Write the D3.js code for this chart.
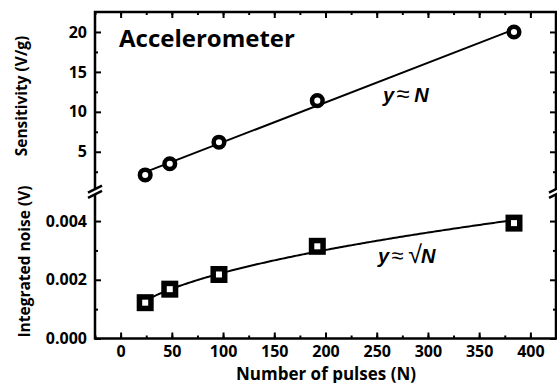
<!DOCTYPE html>
<html>
<head>
<meta charset="utf-8">
<script src="https://cdn.jsdelivr.net/npm/d3@7"></script>
<style>
  body { margin: 0; background: #fff; }
  svg { display: block; }
  .tick text { font-family: "Open Sans", sans-serif; font-weight: bold; font-size: 16px; fill: #000; }
  .tick line { stroke: #000; stroke-width: 2; }
  .frame { stroke: #000; stroke-width: 2.5; fill: none; }
  .title { font-family: "Open Sans", sans-serif; font-weight: bold; fill: #000; }
  .eq { font-family: "Liberation Sans", Arial, sans-serif; font-size: 20px; fill: #000; }
</style>
</head>
<body>
<svg id="chart" width="557" height="383"></svg>
<script>
// data
const pulses = [24, 48, 96, 192, 384];
const sensitivity = [2.1, 3.5, 6.2, 11.4, 20.0];        // V/g
const noise = [0.00122, 0.00168, 0.00218, 0.00314, 0.00393]; // V

const xTicks = [0, 50, 100, 150, 200, 250, 300, 350, 400];
const topTicks = [5, 10, 15, 20];
const botTicks = [0.000, 0.002, 0.004];

const svg = d3.select('#chart');
const pLeft = 95, pRight = 556, pTop = 12, pBottom = 338.5, brk = 191.7;

const x = d3.scaleLinear().domain([-25, 425]).range([pLeft, pRight]);
const yTop = d3.scaleLinear().domain([0, 22.5]).range([brk, pTop]);
const yBot = d3.scaleLinear().domain([0, 0.005]).range([pBottom, brk]);

const xMinor = d3.range(-25, 426, 25);
const topMinor = [2.5, 7.5, 12.5, 17.5];
const botMinor = [0.001, 0.003];

// ticks (all pointing inward)
function ticks(axis, transform, vals, size, fmt) {
  const g = svg.append('g').attr('transform', transform)
    .call(axis.tickValues(vals).tickSize(size).tickPadding(fmt ? 8 : 0)
      .tickFormat(fmt || (() => '')));
  g.select('.domain').remove();
  return g;
}

// x axis: bottom labels, top ticks
ticks(d3.axisBottom(x), `translate(0,${pBottom})`, xTicks, -6, d3.format('d'))
  .call(g => g.selectAll('text').attr('y', 7));
ticks(d3.axisBottom(x), `translate(0,${pBottom})`, xMinor, -3);
ticks(d3.axisTop(x), `translate(0,${pTop})`, xTicks, -6);
ticks(d3.axisTop(x), `translate(0,${pTop})`, xMinor, -3);

// top panel y ticks
ticks(d3.axisLeft(yTop), `translate(${pLeft},0)`, topTicks, -6, d3.format('d'));
ticks(d3.axisLeft(yTop), `translate(${pLeft},0)`, topMinor, -3);
ticks(d3.axisRight(yTop), `translate(${pRight},0)`, topTicks, -6);
ticks(d3.axisRight(yTop), `translate(${pRight},0)`, topMinor, -3);

// bottom panel y ticks
ticks(d3.axisLeft(yBot), `translate(${pLeft},0)`, botTicks, -6, d3.format('.3f'));
ticks(d3.axisLeft(yBot), `translate(${pLeft},0)`, botMinor, -3);
ticks(d3.axisRight(yBot), `translate(${pRight},0)`, botTicks, -6);
ticks(d3.axisRight(yBot), `translate(${pRight},0)`, botMinor, -3);

// frame with axis breaks
const gap = 2.6;
svg.append('path').attr('class', 'frame')
  .attr('d', `M${pLeft},${brk - gap}V${pTop}H${pRight}V${brk - gap}` +
             `M${pLeft},${brk + gap}V${pBottom}H${pRight}V${brk + gap}`);
[pLeft, pRight].forEach(cx => {
  [-gap, gap].forEach(o => {
    svg.append('line').attr('class', 'frame').attr('stroke-width', 2)
      .attr('x1', cx - 7).attr('y1', brk + o + 3.5)
      .attr('x2', cx + 7).attr('y2', brk + o - 3.5);
  });
});

// least-squares fits
function fit(xs, ys) {
  const mx = d3.mean(xs), my = d3.mean(ys);
  const b = d3.sum(xs, (v, i) => (v - mx) * (ys[i] - my)) / d3.sum(xs, v => (v - mx) ** 2);
  return [my - b * mx, b];
}
const [a1, b1] = fit(pulses, sensitivity);
const [a2, b2] = fit(pulses.map(Math.sqrt), noise);

const nMin = d3.min(pulses), nMax = d3.max(pulses);
const nGrid = d3.range(nMin, nMax + 0.1, 2);

svg.append('path')
  .attr('d', d3.line().x(d => x(d)).y(d => yTop(a1 + b1 * d))([nMin, nMax]))
  .attr('fill', 'none').attr('stroke', '#000').attr('stroke-width', 2);

svg.append('path')
  .attr('d', d3.line().x(d => x(d)).y(d => yBot(a2 + b2 * Math.sqrt(d)))(nGrid))
  .attr('fill', 'none').attr('stroke', '#000').attr('stroke-width', 2);

// markers
svg.selectAll('.circ').data(pulses).join('circle')
  .attr('cx', d => x(d)).attr('cy', (d, i) => yTop(sensitivity[i]))
  .attr('r', 5.3).attr('fill', '#fff').attr('stroke', '#000').attr('stroke-width', 4.5);

const s = 11.5;
svg.selectAll('.sq').data(pulses).join('rect')
  .attr('x', d => x(d) - s / 2).attr('y', (d, i) => yBot(noise[i]) - s / 2)
  .attr('width', s).attr('height', s)
  .attr('fill', '#fff').attr('stroke', '#000').attr('stroke-width', 5.5);

// labels
svg.append('text').attr('class', 'title').attr('x', 119).attr('y', 46.5)
  .style('font-size', '24px').text('Accelerometer');

svg.append('text').attr('class', 'title').attr('text-anchor', 'middle')
  .attr('x', 326).attr('y', 379.5).style('font-size', '17px').text('Number of pulses (N)');

svg.append('text').attr('class', 'title').attr('text-anchor', 'middle')
  .attr('transform', `translate(27,${(30 + 162) / 2}) rotate(-90)`)
  .style('font-size', '15.5px').text('Sensitivity (V/g)');

svg.append('text').attr('class', 'title').attr('text-anchor', 'middle')
  .attr('transform', `translate(30,${(183 + 340) / 2}) rotate(-90)`)
  .style('font-size', '15.5px').text('Integrated noise (V)');

const eq1 = svg.append('text').attr('class', 'eq').attr('x', 383).attr('y', 102);
eq1.append('tspan').attr('font-weight', 'bold').attr('font-style', 'italic').text('y');
eq1.append('tspan').attr('dx', 2).style('font-size', '24px').text('≈');
eq1.append('tspan').attr('dx', 5).attr('font-weight', 'bold').attr('font-style', 'italic').text('N');

const eq2 = svg.append('text').attr('class', 'eq').attr('x', 378).attr('y', 263);
eq2.append('tspan').attr('font-weight', 'bold').attr('font-style', 'italic').text('y');
eq2.append('tspan').attr('dx', 2).style('font-size', '22px').text('≈');
eq2.append('tspan').attr('dx', 5).style('font-size', '25px').text('√');
eq2.append('tspan').attr('dx', -1).attr('font-weight', 'bold').attr('font-style', 'italic').text('N');
</script>
</body>
</html>
